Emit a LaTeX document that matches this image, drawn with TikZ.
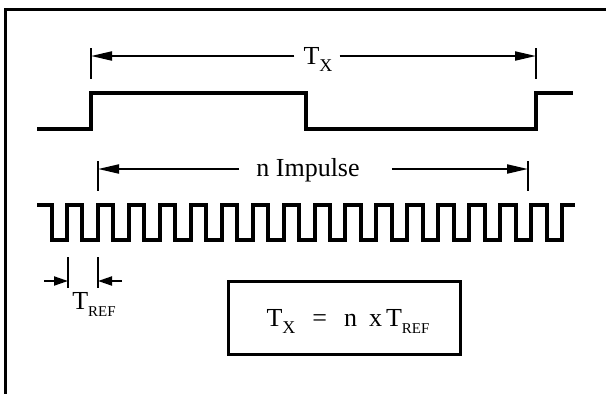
\documentclass[tikz,border=0pt]{standalone}
\usepackage{fontspec}
\setmainfont{Liberation Serif}
\usetikzlibrary{arrows.meta}
% lowered, smaller index letters (T_X, T_REF)
\newcommand\lowsub[2][18]{\raisebox{-0.3em}{\fontsize{#1}{#1}\selectfont #2}}

\begin{document}
\begin{tikzpicture}[x=1pt,y=-1pt,
  frame/.style={line width=3pt},
  slowwave/.style={line width=4.5pt, line join=miter},
  fastwave/.style={line width=4pt, line join=miter},
  tick/.style={line width=2pt},
  dimline/.style={line width=2pt, -{Triangle[length=21pt,width=9pt]}},
  shortdim/.style={line width=2pt, -{Triangle[length=14pt,width=9pt]}},
  lbl/.style={font=\fontsize{26}{26}\selectfont, inner sep=0pt, anchor=base},
]
\useasboundingbox (0,0) rectangle (606,394);

% open frame: left and top edges
\draw[frame] (5.5,394) -- (5.5,9.5) -- (606,9.5);

% measured signal
\draw[slowwave] (37,129) -- (91,129) -- (91,93) -- (306,93) -- (306,129)
  -- (536,129) -- (536,93) -- (573,93);

% reference clock
\draw[fastwave] (37,205)
  \foreach \k in {0,...,16} {
    -- ({51.5+30.94*\k},205) -- ({51.5+30.94*\k},240)
    -- ({67+30.94*\k},240) -- ({67+30.94*\k},205)
  } -- (575,205);

% T_X dimension
\coordinate (txL) at (91,56);
\coordinate (txR) at (536,56);
\draw[tick] (91,48) -- (91,79);
\draw[tick] (536,48) -- (536,79);
\node[lbl] (tx) at (318,64) {T\lowsub{X}};
\draw[dimline] ([xshift=-9pt]tx.west |- txL) -- (txL);
\draw[dimline] ([xshift=7pt]tx.east |- txR) -- (txR);

% n pulses dimension
\coordinate (niL) at (98,169);
\coordinate (niR) at (528,169);
\draw[tick] (98,161) -- (98,191);
\draw[tick] (528,161) -- (528,191);
\node[lbl] (ni) at (308,176) {n Impulse};
\draw[dimline] ([xshift=-17pt]ni.west |- niL) -- (niL);
\draw[dimline] ([xshift=32pt]ni.east |- niR) -- (niR);

% T_REF period
\coordinate (trL) at (68,281);
\coordinate (trR) at (98,281);
\coordinate (trLs) at (44,281);
\coordinate (trRs) at (122,281);
\draw[tick] (68,257) -- (68,288);
\draw[tick] (98,257) -- (98,288);
\draw[shortdim] (trLs) -- (trL);
\draw[shortdim] (trRs) -- (trR);
\node[lbl] (tref) at (94,309) {T\lowsub[15]{REF}};

% relation box
\node[draw, line width=3pt, minimum width=232pt, minimum height=73pt,
  inner sep=0pt] (box) at (344,317.5) {};
\node[lbl] (eq) at (348,326)
  {T\lowsub{X}\hspace{17pt}=\hspace{17pt}n\hspace{12pt}x\hspace{4pt}T\lowsub[15]{REF}};
\end{tikzpicture}
\end{document}
